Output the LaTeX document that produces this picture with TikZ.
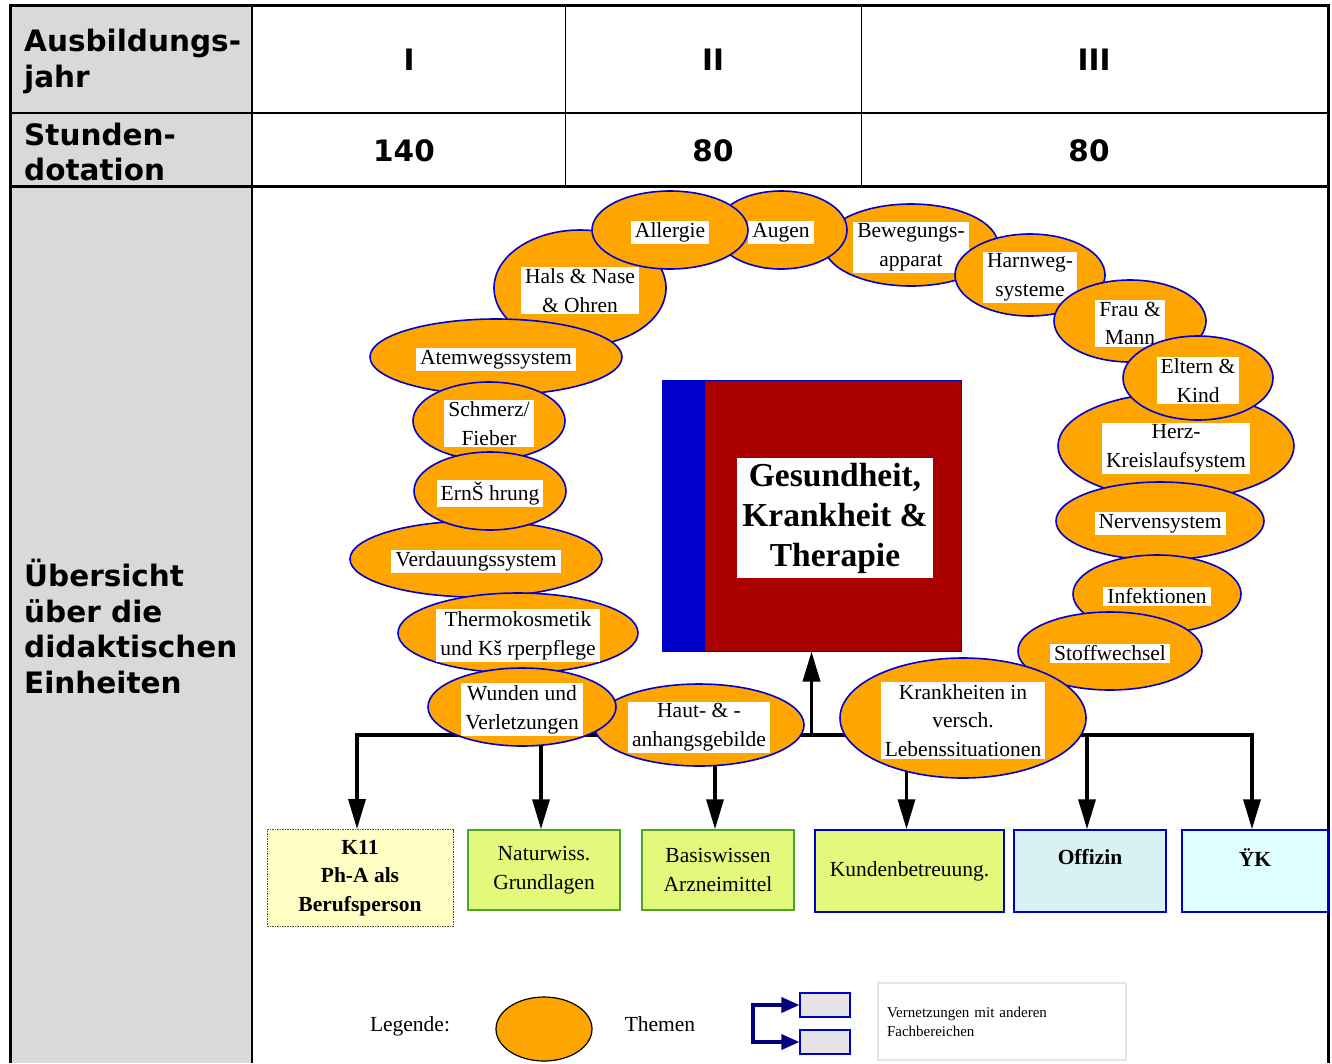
\documentclass[tikz,border=0pt]{standalone}
\usepackage{fontspec}
\setmainfont{Liberation Serif}
\newfontfamily\kopfschrift{DejaVu Sans}
\usetikzlibrary{shapes.geometric,arrows.meta}

\definecolor{themafarbe}{HTML}{FFA500}
\definecolor{themarand}{HTML}{0000CC}
\definecolor{buchrot}{HTML}{AA0000}
\definecolor{buchblau}{HTML}{0000CC}
\definecolor{kopfgrau}{HTML}{D9D9D9}
\definecolor{fachgruen}{HTML}{E3F97B}
\definecolor{fachrand}{HTML}{4EA628}
\definecolor{kgelb}{HTML}{FFFFC4}
\definecolor{offizinblau}{HTML}{D8F2F4}
\definecolor{uekblau}{HTML}{E2FFFF}
\definecolor{leggrau}{HTML}{E6E4E2}
\definecolor{navy}{HTML}{000080}

\begin{document}
\begin{tikzpicture}[x=1pt,y=-1pt,
    kopf/.style={font=\kopfschrift\bfseries\fontsize{29.5}{35.5}\selectfont, inner sep=0pt},
    thema/.style={ellipse,draw=themarand,fill=themafarbe,line width=1.6pt,inner sep=0pt,outer sep=0pt},
    themtext/.style={fill=white,align=center,inner xsep=4pt,inner ysep=2pt,yshift=-2.5pt,font=\fontsize{21.5}{28.8}\selectfont},
    titel/.style={fill=white,align=center,inner xsep=5pt,inner ysep=5pt,font=\bfseries\fontsize{33.5}{40}\selectfont},
    kasten/.style={align=center,line width=1.5pt,inner sep=0pt,font=\fontsize{21.5}{28.5}\selectfont},
    verbindung/.style={line width=3.5pt,-{Triangle[length=30pt,width=17pt]}},
    legpfeil/.style={draw=navy,line width=3.5pt,-{Triangle[length=18pt,width=15pt]}}]
    \useasboundingbox (0,0) rectangle (1332,1063);

    % Tabelle
    \fill[kopfgrau] (10,5) rectangle (252,1063);
    \draw[line width=3pt] (10,1063) -- (10,5) -- (1328,5) -- (1328,1063);
    \draw[line width=2pt] (10,113) -- (1328,113);
    \draw[line width=3pt] (10,186) -- (1328,186);
    \draw[line width=1.5pt] (252,5) -- (252,1063);
    \draw[line width=1pt] (565,5) -- (565,186) (861,5) -- (861,186);

    \node[kopf,anchor=west,align=left] (jahr) at (24,61.5) {Ausbildungs-\\jahr};
    \node[kopf,anchor=west,align=left] (dotation) at (24,152) {Stunden-\\dotation};
    \node[kopf,anchor=west,align=left] (einheiten) at (24,626.5) {Übersicht\\über die\\didaktischen\\Einheiten};
    \node[kopf] (jahr1) at (409,60) {I};
    \node[kopf] (jahr2) at (713,60) {II};
    \node[kopf] (jahr3) at (1094,60) {III};
    \node[kopf] (std1) at (404,151) {140};
    \node[kopf] (std2) at (713,151) {80};
    \node[kopf] (std3) at (1089,151) {80};

    % Buch in der Mitte
    \node[fill=buchrot,draw=buchblau,line width=1pt,minimum width=299pt,minimum height=271pt,inner sep=0pt]
        (buch) at (811.5,515.5) {};
    \fill[buchblau] (buch.north west) rectangle ([xshift=43pt]buch.south west);
    \node[titel] (titel) at (835,518) {Gesundheit,\\Krankheit \&\\Therapie};

    % Fachbereiche
    \node[kasten,fill=kgelb,draw=gray!60!black,densely dotted,line width=1pt,minimum width=186pt,minimum height=97pt,font=\bfseries\fontsize{21.5}{28.5}\selectfont]
        (k11) at (360,878) {K11\\Ph-A als\\Berufsperson};
    \node[kasten,fill=fachgruen,draw=fachrand,minimum width=152pt,minimum height=80pt] (naturwiss) at (544,870) {Naturwiss.\\Grundlagen};
    \node[kasten,fill=fachgruen,draw=fachrand,minimum width=152pt,minimum height=80pt] (basis) at (718,870) {Basiswissen\\Arzneimittel};
    \node[kasten,fill=fachgruen,draw=themarand,minimum width=189pt,minimum height=82pt] (kunden) at (909.5,871) {Kundenbetreuung.};
    \node[kasten,fill=offizinblau,draw=themarand,minimum width=152pt,minimum height=82pt,
          label={[anchor=north,inner sep=0pt,yshift=-20pt,font=\bfseries\fontsize{21.5}{28.5}\selectfont]north:Offizin}] (offizin) at (1090,871) {};
    \node[kasten,fill=uekblau,draw=themarand,minimum width=146pt,minimum height=82pt,
          label={[anchor=north,inner sep=0pt,yshift=-19pt,font=\bfseries\fontsize{21.5}{28.5}\selectfont]north:ŸK}] (uek) at (1255,871) {};

    % Verbindungen
    \coordinate (hub) at (811.5,735);
    \draw[verbindung] (hub) -- (hub |- buch.south);
    \foreach \ziel in {k11,naturwiss,basis,kunden,offizin,uek}
        \draw[verbindung] (hub) -| ([xshift=-3pt]\ziel.north);

    % Themen
    \foreach \n/\x/\y/\bw/\bh/\txt in {
        hals/580/288/172/116/{Hals \& Nase\\\& Ohren},
        atem/496/357/252/76/{Atemwegssystem},
        schmerz/489/421/152/78/{Schmerz/\\Fieber},
        verdauung/476/559/252/76/{Verdauungssystem},
        ernaehrung/490/491/152/78/{ErnŠ hrung},
        thermo/518/633/240/80/{Thermokosmetik\\und Kš rperpflege},
        haut/699/725/210/82/{Haut- \& -\\anhangsgebilde},
        wunden/522/707/188/78/{Wunden und\\Verletzungen},
        bewegung/911/245/174/82/{Bewegungs-\\apparat},
        augen/781/230/132/78/{Augen},
        allergie/670/230/156/78/{Allergie},
        harnweg/1030/275/150/82/{Harnweg-\\systeme},
        frau/1130/321/152/82/{Frau \&\\Mann},
        herz/1176/446/236/106/{Herz-\\Kreislaufsystem},
        eltern/1198/378/150/84/{Eltern \&\\Kind},
        nerven/1160/521/208/78/{Nervensystem},
        infekt/1157/594/168/78/{Infektionen},
        stoff/1110/651/184/78/{Stoffwechsel},
        krank/963/718/246/120/{Krankheiten in\\versch.\\Lebenssituationen}}
    {
        \node[thema,minimum width=\bw pt,minimum height=\bh pt] (\n) at (\x,\y) {};
        \node[themtext] (\n-text) at (\n) {\txt};
    }

    % Legende
    \node[font=\fontsize{21.5}{28.5}\selectfont] (legende) at (410,1026) {Legende:};
    \node[ellipse,draw=black,fill=themafarbe,line width=1.2pt,minimum width=96pt,minimum height=64pt,inner sep=0pt] (legthema) at (544,1029) {};
    \node[font=\fontsize{21.5}{28.5}\selectfont] (themen) at (660,1024) {Themen};
    \node[fill=leggrau,draw=themarand,line width=1.2pt,minimum width=50pt,minimum height=24pt,inner sep=0pt] (leg1) at (825,1005) {};
    \node[fill=leggrau,draw=themarand,line width=1.2pt,minimum width=50pt,minimum height=24pt,inner sep=0pt] (leg2) at (825,1042) {};
    \coordinate (klammer) at (753,1023);
    \draw[legpfeil] (klammer) |- (leg1.west);
    \draw[legpfeil] (klammer) |- (leg2.west);
    \node[draw=gray!20,line width=1.5pt,minimum width=248pt,minimum height=77pt,text width=230pt,inner xsep=9pt,align=left,
          font=\fontsize{15}{19}\selectfont] (vernetzung) at (1002,1021.5) {Vernetzungen mit anderen\\Fachbereichen};
\end{tikzpicture}
\end{document}
